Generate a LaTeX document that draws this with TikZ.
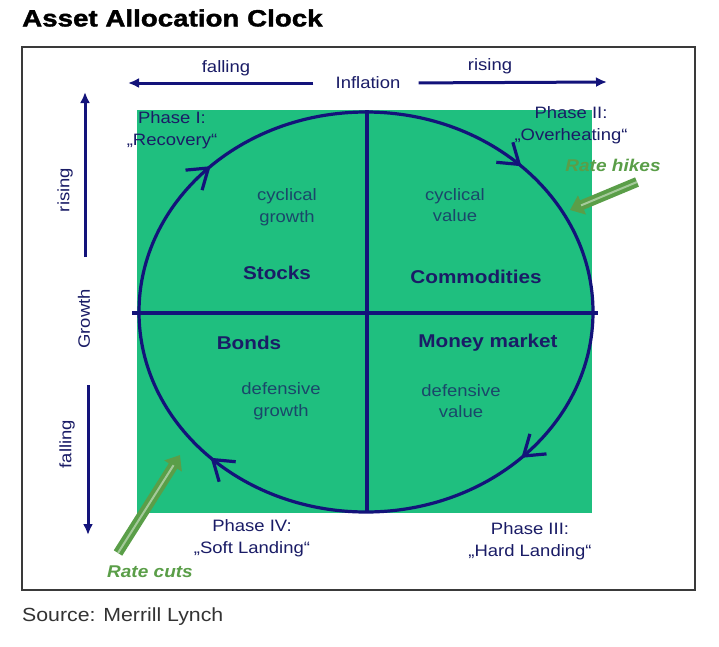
\documentclass[tikz,border=0pt]{standalone}
\usepackage{fontspec}
\setmainfont{Liberation Sans}[FakeStretch=1.12]
\newfontfamily\titlefont{Liberation Sans}[FakeStretch=1.18,FakeBold=1.6]
\usetikzlibrary{arrows.meta,decorations.markings}
\definecolor{navy}{HTML}{13137A}
\definecolor{textnavy}{HTML}{1A1C66}
\definecolor{clockgreen}{HTML}{1FBF7F}
\definecolor{quadtext}{HTML}{1A476A}
\definecolor{rategreen}{HTML}{5A9E48}
\definecolor{framegray}{HTML}{3A3A3A}

\begin{document}
\begin{tikzpicture}[x=1pt,y=-1pt,>=Latex,
  lbl/.style={text=textnavy,font=\fontsize{16.5}{21.5}\selectfont,inner sep=0pt,align=center},
  quad/.style={text=quadtext,font=\fontsize{16.5}{21.5}\selectfont,inner sep=0pt,align=center},
  asset/.style={text=textnavy,font=\fontsize{18.5}{21}\selectfont\bfseries,inner sep=0pt},
  axis/.style={line width=3pt,navy,-{Latex[length=11pt,width=10pt]}},
  barb/.tip={Straight Barb[length=19pt,width=26pt,line width=3.2pt]},
  ratearrow/.style={line width=10pt,rategreen,-{Triangle[length=13pt,width=20pt]},
    postaction={draw=rategreen!55!white,line width=2pt,arrows=-,shorten >=12pt}},
  ratelbl/.style={text=rategreen,font=\fontsize{17}{20}\selectfont\bfseries\itshape,inner sep=0pt}]

\useasboundingbox (0,0) rectangle (719,646);
\fill[white] (0,0) rectangle (719,646);

\node[anchor=west,inner sep=0pt,font=\titlefont\fontsize{23.5}{26}\selectfont\bfseries] (title) at (22,18)
  {Asset Allocation Clock};
\draw[framegray,line width=1.5pt] (22,47) rectangle (695,590);

% quadrant field
\fill[clockgreen] (137,110) rectangle (592,513);

% inflation axis
\node[lbl] (infl) at (368,83) {Inflation};
\node[lbl] (infl-fall) at (226,68) {falling};
\node[lbl] (infl-rise) at (490,66) {rising};
\coordinate (fall-end) at (128,83);
\coordinate (rise-end) at (607,82);
\draw[axis,shorten <=22pt] (infl.west) -- (fall-end);
\draw[axis,shorten <=18pt] (infl.east) -- (rise-end);

% growth axis
\node[lbl,rotate=90] (growth) at (84,319) {Growth};
\node[lbl,rotate=90] (grow-rise) at (65,190) {rising};
\node[lbl,rotate=90] (grow-fall) at (67,444) {falling};
\coordinate (up-tail) at (85,257);
\coordinate (up-tip) at (85,92);
\coordinate (down-tail) at (88,385);
\coordinate (down-tip) at (88,535);
\draw[axis] (up-tail) -- (up-tip);
\draw[axis] (down-tail) -- (down-tip);

% phases
\node[lbl] (ph1) at (172,130) {Phase I:\\„Recovery“};
\node[lbl] (ph2) at (571,125) {Phase II:\\„Overheating“};
\node[lbl] (ph3) at (530,541) {Phase III:\\„Hard Landing“};
\node[lbl] (ph4) at (252,538) {Phase IV:\\„Soft Landing“};

% clock
\draw[navy,line width=3.2pt,postaction={decorate},
  decoration={markings,
    mark=at position 0.125 with {\arrow{barb}},
    mark=at position 0.375 with {\arrow{barb}},
    mark=at position 0.625 with {\arrow{barb}},
    mark=at position 0.875 with {\arrow{barb}}}]
  (366,312) ellipse [x radius=227,y radius=200];
\draw[navy,line width=3.8pt] (132,313) -- (598,313);
\draw[navy,line width=3.8pt] (367,110) -- (367,513);

% quadrants
\node[quad] (cyc-grow) at (287,207) {cyclical\\growth};
\node[quad] (cyc-val) at (455,205) {cyclical\\value};
\node[quad] (def-grow) at (281,401) {defensive\\growth};
\node[quad] (def-val) at (461,401) {defensive\\value};
\node[asset] (stocks) at (277,273) {Stocks};
\node[asset] (comm) at (476,277) {Commodities};
\node[asset] (bonds) at (249,343) {Bonds};
\node[asset] (money) at (488,343) {Money market};

% rates
\node[ratelbl] (hikes) at (613,165) {Rate hikes};
\node[ratelbl] (cuts) at (150,572) {Rate cuts};
\coordinate (hike-tail) at (637,182);
\coordinate (hike-tip) at (570,210);
\coordinate (cut-tail) at (118,553);
\coordinate (cut-tip) at (180,455);
\draw[ratearrow] (hike-tail) -- (hike-tip);
\draw[ratearrow] (cut-tail) -- (cut-tip);

\node[anchor=west,inner sep=0pt,font=\fontsize{19}{22}\selectfont,text=black!80] (source) at (22,617)
  {Source: Merrill Lynch};
\end{tikzpicture}
\end{document}
